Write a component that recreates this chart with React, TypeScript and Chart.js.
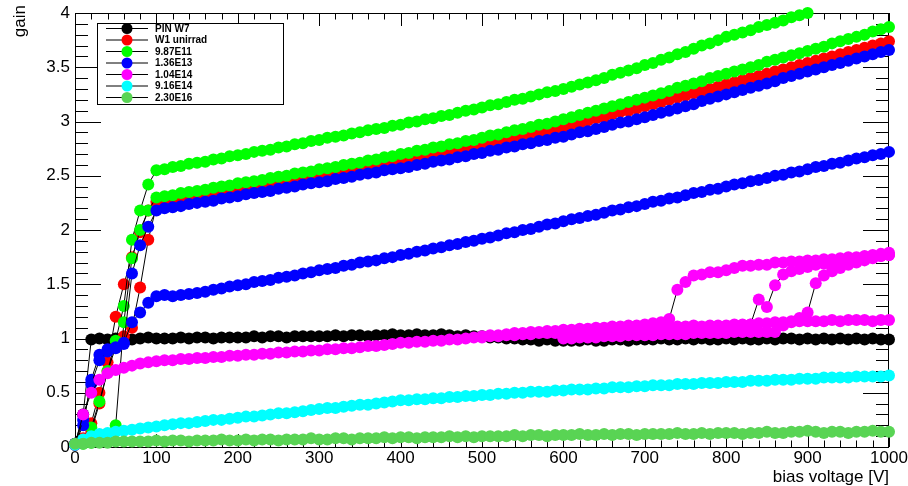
import React, { useEffect, useRef } from "react";
import { Chart, registerables } from "chart.js";

Chart.register(...registerables);

const FONT = "'Liberation Sans', Arial, Helvetica, sans-serif";

const voltages = [0,10,20,30,40,50,60,70,80,90,100,110,120,130,140,150,160,170,180,190,200,210,220,230,240,250,260,270,280,290,300,310,320,330,340,350,360,370,380,390,400,410,420,430,440,450,460,470,480,490,500,510,520,530,540,550,560,570,580,590,600,610,620,630,640,650,660,670,680,690,700,710,720,730,740,750,760,770,780,790,800,810,820,830,840,850,860,870,880,890,900,910,920,930,940,950,960,970,980,990,1000];

const xTickValues = [0, 100, 200, 300, 400, 500, 600, 700, 800, 900, 1000];
const yTickValues = [0, 0.5, 1, 1.5, 2, 2.5, 3, 3.5, 4];

const legendLabels = ["PIN W7", "W1 unirrad", "9.87E11", "1.36E13", "1.04E14", "9.16E14", "2.30E16"];
const legendColors = ["#000000", "#ff0000", "#00ff00", "#0000ff", "#ff00ff", "#00ffff", "#59d454"];

const pinW7 = [0.03,0.30,0.99,1.00,0.99,1.00,1.00,0.99,1.00,1.01,1.00,
 1.00,1.00,1.01,1.00,1.01,1.01,1.00,1.01,1.01,1.01,
 1.01,1.02,1.01,1.02,1.02,1.01,1.02,1.02,1.02,1.02,
 1.02,1.03,1.02,1.03,1.03,1.02,1.03,1.03,1.04,1.03,
 1.03,1.04,1.03,1.03,1.04,1.03,1.02,1.03,1.02,1.02,
 1.01,1.01,1.00,1.00,0.99,0.99,0.98,0.99,0.98,0.98,
 0.98,0.98,0.99,0.98,0.98,0.99,0.99,0.98,0.99,0.99,
 0.99,1.00,0.99,0.99,1.00,0.99,1.00,0.99,0.99,1.00,
 0.99,1.00,0.99,0.99,1.00,0.99,1.00,1.00,0.99,1.00,
 0.99,1.00,0.99,1.00,0.99,1.00,0.99,1.00,0.99,0.99];

const w1UnirradA = [0.02,0.08,0.22,0.50,0.78,1.20,1.50,1.75,1.98,2.18,2.26,
 2.27,2.28,2.30,2.31,2.32,2.33,2.35,2.35,2.37,2.38,
 2.39,2.41,2.42,2.43,2.44,2.46,2.47,2.48,2.49,2.51,
 2.52,2.53,2.55,2.56,2.57,2.59,2.60,2.61,2.63,2.64,
 2.65,2.67,2.68,2.69,2.71,2.72,2.74,2.75,2.77,2.78,
 2.80,2.81,2.83,2.84,2.86,2.88,2.89,2.91,2.93,2.95,
 2.97,2.98,3.01,3.03,3.04,3.07,3.09,3.10,3.12,3.14,
 3.16,3.18,3.20,3.22,3.24,3.26,3.28,3.30,3.32,3.34,
 3.36,3.38,3.40,3.42,3.44,3.46,3.48,3.50,3.52,3.54,
 3.56,3.58,3.60,3.62,3.64,3.66,3.68,3.70,3.72,3.74];

const w1UnirradB = [0.02,0.05,0.15,0.40,0.70,0.92,1.02,1.10,1.47,1.91,2.22,
 2.27,2.28,2.29,2.31,2.32];

const f987e11A = [0.02,0.06,0.18,0.42,0.70,0.98,1.30,1.91,2.18,2.42,2.55,
 2.56,2.58,2.59,2.61,2.62,2.63,2.65,2.66,2.68,2.69,
 2.70,2.72,2.73,2.74,2.76,2.77,2.79,2.80,2.82,2.83,
 2.85,2.86,2.87,2.89,2.90,2.92,2.93,2.94,2.96,2.97,
 2.99,3.00,3.02,3.03,3.05,3.06,3.08,3.10,3.11,3.13,
 3.15,3.16,3.18,3.20,3.21,3.23,3.25,3.27,3.28,3.30,
 3.32,3.34,3.36,3.38,3.40,3.43,3.45,3.47,3.49,3.52,
 3.54,3.57,3.59,3.62,3.64,3.67,3.70,3.72,3.75,3.78,
 3.80,3.82,3.84,3.87,3.89,3.91,3.93,3.96,3.98,4.00];

const f987e11B = [0.02,0.03,0.04,0.05,0.06,0.20,1.15,1.74,2.00,2.18,2.30,
 2.31,2.32,2.34,2.35,2.36,2.37,2.39,2.40,2.41,2.43,
 2.44,2.45,2.46,2.48,2.49,2.50,2.52,2.53,2.54,2.56,
 2.57,2.58,2.60,2.61,2.62,2.64,2.65,2.67,2.68,2.70,
 2.71,2.73,2.74,2.76,2.77,2.79,2.80,2.82,2.83,2.85,
 2.87,2.88,2.90,2.92,2.93,2.95,2.97,2.98,3.00,3.02,
 3.04,3.06,3.08,3.10,3.12,3.14,3.16,3.18,3.20,3.22,
 3.24,3.26,3.28,3.31,3.33,3.35,3.37,3.40,3.42,3.44,
 3.46,3.48,3.50,3.52,3.55,3.57,3.59,3.61,3.63,3.65,
 3.67,3.69,3.72,3.74,3.76,3.78,3.80,3.83,3.85,3.87];

const f136e13A = [0.03,0.20,0.62,0.85,0.90,0.92,0.95,1.60,1.86,2.03,2.18,
 2.20,2.21,2.22,2.24,2.25,2.26,2.27,2.29,2.30,2.31,
 2.33,2.34,2.35,2.36,2.38,2.39,2.40,2.42,2.43,2.44,
 2.45,2.47,2.48,2.49,2.51,2.52,2.53,2.55,2.56,2.57,
 2.58,2.60,2.61,2.63,2.64,2.65,2.67,2.68,2.70,2.71,
 2.73,2.74,2.76,2.77,2.79,2.80,2.82,2.83,2.85,2.86,
 2.88,2.90,2.91,2.93,2.95,2.97,2.99,3.00,3.02,3.04,
 3.06,3.08,3.10,3.12,3.14,3.16,3.19,3.21,3.23,3.25,
 3.27,3.29,3.31,3.33,3.35,3.37,3.40,3.42,3.44,3.46,
 3.48,3.50,3.52,3.54,3.56,3.58,3.60,3.62,3.64,3.66];

const f136e13B = [0.02,0.25,0.58,0.80,0.88,0.91,0.96,1.15,1.24,1.33,1.39,
 1.40,1.39,1.40,1.41,1.42,1.43,1.45,1.46,1.48,1.49,
 1.50,1.52,1.53,1.54,1.56,1.57,1.58,1.60,1.61,1.63,
 1.64,1.65,1.67,1.68,1.70,1.71,1.72,1.74,1.75,1.77,
 1.78,1.80,1.81,1.83,1.84,1.86,1.87,1.89,1.90,1.92,
 1.93,1.95,1.97,1.98,2.00,2.01,2.03,2.05,2.06,2.08,
 2.10,2.11,2.13,2.14,2.16,2.18,2.19,2.21,2.22,2.24,
 2.26,2.27,2.29,2.30,2.32,2.34,2.35,2.37,2.38,2.40,
 2.42,2.43,2.45,2.46,2.48,2.50,2.51,2.53,2.54,2.56,
 2.58,2.59,2.61,2.62,2.64,2.66,2.67,2.69,2.70,2.72];

const f104e14A = [0.02,0.30,0.50,0.62,0.68,0.71,0.73,0.75,0.77,0.78,0.79,
 0.80,0.80,0.81,0.81,0.82,0.82,0.83,0.83,0.84,0.84,
 0.85,0.85,0.86,0.86,0.87,0.87,0.88,0.88,0.89,0.89,
 0.90,0.90,0.91,0.91,0.92,0.93,0.93,0.94,0.95,0.96,
 0.96,0.97,0.97,0.98,0.98,0.99,0.99,1.00,1.01,1.01,
 1.02,1.02,1.03,1.03,1.04,1.04,1.05,1.05,1.05,1.06,
 1.06,1.07,1.07,1.08,1.08,1.08,1.09,1.09,1.10,1.10,
 1.10,1.11,1.10,1.11,1.11,1.12,1.11,1.12,1.12,1.12,
 1.13,1.13,1.13,1.14,1.14,1.15,1.15,1.15,1.16,1.16,
 1.16,1.16,1.17,1.16,1.17,1.17,1.17,1.16,1.17,1.17];

const f104e14B = [null,null,null,null,null,null,null,null,null,null,
 null,null,null,null,null,null,null,null,null,null,
 null,null,null,null,null,null,null,null,null,null,
 null,null,null,null,null,null,null,null,null,null,
 null,null,null,null,null,null,null,null,null,null,
 1.02,1.03,1.03,1.04,1.05,1.05,1.06,1.06,1.07,1.07,1.08,
 1.08,1.09,1.09,1.10,1.10,1.11,1.11,1.12,1.12,1.13,
 1.14,1.15,1.18,1.45,1.52,1.58,1.59,1.61,1.61,1.63,
 1.65,1.67,1.67,1.68,1.68,1.70,1.70,1.71,1.71,1.72,
 1.72,1.73,1.73,1.74,1.75,1.75,1.76,1.77,1.78,1.79];

const f104e14C = [null,null,null,null,null,null,null,null,null,null,
 null,null,null,null,null,null,null,null,null,null,
 null,null,null,null,null,null,null,null,null,null,
 null,null,null,null,null,null,null,null,null,null,
 null,null,null,null,null,null,null,null,null,null,
 null,null,null,null,null,null,null,null,null,null,
 1.01,1.01,1.02,1.02,1.02,1.03,1.03,1.03,1.04,1.04,1.04,
 1.05,1.05,1.05,1.06,1.06,1.06,1.07,1.07,1.08,1.08,
 1.09,1.10,1.13,1.36,1.29,1.49,1.59,1.62,1.64,1.66,
 1.68,1.69,1.70,1.71,1.72,1.73,1.74,1.75,1.76,1.77];

const f104e14D = [null,null,null,null,null,null,null,null,null,null,
 null,null,null,null,null,null,null,null,null,null,
 null,null,null,null,null,null,null,null,null,null,
 null,null,null,null,null,null,null,null,null,null,
 null,null,null,null,null,null,null,null,null,null,
 null,null,null,null,null,null,null,null,null,null,
 1.00,1.00,1.01,1.01,1.01,1.02,1.02,1.02,1.03,1.03,1.03,
 1.03,1.04,1.04,1.04,1.04,1.05,1.05,1.05,1.05,1.05,
 1.06,1.06,1.06,1.06,1.06,1.06,1.12,1.16,1.19,1.24,
 1.51,1.58,1.62,1.65,1.68,1.70,1.72,1.74,1.76,1.77];

const f916e14 = [0.02,0.07,0.10,0.12,0.13,0.14,0.15,0.16,0.17,0.18,0.19,
 0.20,0.21,0.22,0.22,0.23,0.24,0.25,0.25,0.26,0.27,
 0.28,0.28,0.29,0.30,0.31,0.31,0.32,0.33,0.34,0.35,
 0.36,0.36,0.37,0.38,0.39,0.39,0.40,0.41,0.42,0.43,
 0.43,0.44,0.44,0.45,0.45,0.46,0.46,0.47,0.47,0.48,
 0.48,0.49,0.49,0.50,0.50,0.51,0.51,0.51,0.52,0.52,
 0.53,0.53,0.53,0.54,0.54,0.55,0.55,0.55,0.56,0.56,
 0.57,0.57,0.57,0.58,0.58,0.58,0.59,0.59,0.59,0.60,
 0.60,0.60,0.61,0.61,0.61,0.62,0.62,0.62,0.63,0.63,
 0.63,0.64,0.64,0.64,0.64,0.65,0.65,0.65,0.65,0.66];

const f230e16 = [0.03,0.03,0.04,0.04,0.04,0.05,0.05,0.05,0.05,0.05,0.06,
 0.05,0.06,0.06,0.05,0.06,0.06,0.06,0.07,0.06,0.06,
 0.07,0.06,0.07,0.07,0.06,0.07,0.07,0.07,0.08,0.07,
 0.07,0.08,0.08,0.07,0.08,0.08,0.08,0.09,0.08,0.09,
 0.09,0.08,0.09,0.09,0.09,0.10,0.09,0.10,0.09,0.10,
 0.10,0.10,0.10,0.11,0.10,0.11,0.11,0.10,0.11,0.11,
 0.11,0.12,0.11,0.11,0.12,0.11,0.12,0.12,0.11,0.12,
 0.12,0.12,0.12,0.13,0.12,0.12,0.13,0.12,0.13,0.13,
 0.13,0.12,0.13,0.13,0.14,0.13,0.13,0.14,0.14,0.15,
 0.14,0.13,0.14,0.14,0.13,0.14,0.14,0.15,0.14,0.14];

// each curve: gains + index into legend
const curves: { gains: (number | null)[]; legend: number }[] = [
  { gains: pinW7, legend: 0 },
  { gains: w1UnirradA, legend: 1 },
  { gains: w1UnirradB, legend: 1 },
  { gains: f987e11A, legend: 2 },
  { gains: f987e11B, legend: 2 },
  { gains: f136e13A, legend: 3 },
  { gains: f136e13B, legend: 3 },
  { gains: f104e14A, legend: 4 },
  { gains: f104e14B, legend: 4 },
  { gains: f104e14C, legend: 4 },
  { gains: f104e14D, legend: 4 },
  { gains: f916e14, legend: 5 },
  { gains: f230e16, legend: 6 },
];

const MARKER_R = 6;
const LEGEND_MARKER_R = 5.5;

const rootAxesPlugin = {
  id: "rootAxes",
  beforeDatasetsDraw(chart: any) {
    const { ctx, chartArea: a, scales } = chart;
    const x = scales.x;
    const y = scales.y;
    ctx.save();
    ctx.strokeStyle = "#000";
    ctx.lineWidth = 1;
    ctx.beginPath();
    for (let k = 0; k <= 40; k++) {
      const py = Math.round(y.getPixelForValue(k / 10)) + 0.5;
      const len = k % 5 === 0 ? 26 : 13;
      ctx.moveTo(a.left, py);
      ctx.lineTo(a.left + len, py);
      ctx.moveTo(a.right, py);
      ctx.lineTo(a.right - len, py);
    }
    for (let k = 0; k <= 50; k++) {
      const px = Math.round(x.getPixelForValue(k * 20)) + 0.5;
      const len = k % 5 === 0 ? 13 : 6.5;
      ctx.moveTo(px, a.bottom);
      ctx.lineTo(px, a.bottom - len);
      ctx.moveTo(px, a.top);
      ctx.lineTo(px, a.top + len);
    }
    ctx.stroke();
    ctx.strokeRect(a.left + 0.5, a.top + 0.5, a.right - a.left - 1, a.bottom - a.top);
    ctx.restore();
  },
  afterDraw(chart: any) {
    const { ctx, chartArea: a } = chart;
    ctx.save();
    ctx.fillStyle = "#000";
    ctx.font = `17px ${FONT}`;
    // x title
    ctx.textAlign = "right";
    ctx.textBaseline = "middle";
    ctx.fillText("bias voltage [V]", a.right, 477);
    // y title
    ctx.save();
    ctx.translate(20, 5);
    ctx.rotate(-Math.PI / 2);
    ctx.textAlign = "right";
    ctx.textBaseline = "middle";
    ctx.fillText("gain", 0, 0);
    ctx.restore();

    // legend
    const bx = 97, by = 23, bw = 186, bh = 81;
    ctx.fillStyle = "#fff";
    ctx.fillRect(bx, by, bw, bh);
    ctx.strokeStyle = "#000";
    ctx.lineWidth = 1;
    ctx.strokeRect(bx + 0.5, by + 0.5, bw, bh);
    ctx.font = `bold 10px ${FONT}`;
    ctx.textAlign = "left";
    ctx.textBaseline = "middle";
    legendLabels.forEach((label, i) => {
      const cy = 28.5 + i * 11.5;
      ctx.beginPath();
      ctx.strokeStyle = "#000";
      ctx.moveTo(106, cy);
      ctx.lineTo(148, cy);
      ctx.stroke();
      ctx.beginPath();
      ctx.fillStyle = legendColors[i];
      ctx.arc(127, cy, LEGEND_MARKER_R, 0, Math.PI * 2);
      ctx.fill();
      ctx.fillStyle = "#000";
      ctx.fillText(label, 155, cy + 0.5);
    });
    ctx.restore();
  },
};

export default function App() {
  const ref = useRef<HTMLCanvasElement | null>(null);

  useEffect(() => {
    const canvas = ref.current;
    if (!canvas) return;
    const datasets = curves.map((c, idx) => ({
      label: legendLabels[c.legend],
      data: c.gains
        .map((g, i) => ({ x: voltages[i], y: g }))
        .filter((p) => p.y !== null && p.y !== undefined),
      borderColor: "#000",
      borderWidth: 1,
      backgroundColor: legendColors[c.legend],
      pointBackgroundColor: legendColors[c.legend],
      pointBorderWidth: 0,
      pointRadius: MARKER_R,
      pointHoverRadius: MARKER_R,
      showLine: true,
      tension: 0,
      fill: false,
      clip: false,
      order: -idx,
    }));

    const chart = new Chart(canvas, {
      type: "line",
      data: { datasets } as any,
      options: {
        animation: false,
        responsive: false,
        events: [],
        layout: { padding: { left: 0, top: 13, right: 19, bottom: 0 } },
        plugins: { legend: { display: false }, tooltip: { enabled: false } },
        scales: {
          x: {
            type: "linear",
            min: 0,
            max: 1000,
            grid: { display: false, drawTicks: false },
            border: { display: false },
            afterBuildTicks: (s: any) => {
              s.ticks = xTickValues.map((v) => ({ value: v }));
            },
            ticks: {
              padding: 1,
              color: "#000",
              font: { size: 17, family: FONT },
              maxRotation: 0,
              autoSkip: false,
              callback: (v: any) => String(v),
            },
            afterFit: (s: any) => {
              s.height = 39;
              s.paddingLeft = 0;
              s.paddingRight = 0;
            },
          },
          y: {
            type: "linear",
            min: 0,
            max: 4,
            grid: { display: false, drawTicks: false },
            border: { display: false },
            afterBuildTicks: (s: any) => {
              s.ticks = yTickValues.map((v) => ({ value: v }));
            },
            ticks: {
              padding: 5,
              color: "#000",
              font: { size: 17, family: FONT },
              autoSkip: false,
              callback: (v: any) => String(v),
            },
            afterFit: (s: any) => {
              s.width = 75;
              s.paddingTop = 0;
              s.paddingBottom = 0;
            },
          },
        },
      } as any,
      plugins: [rootAxesPlugin],
    });
    return () => chart.destroy();
  }, []);

  return (
    <div style={{ position: "fixed", left: 0, top: 0, width: 908, height: 486, background: "#fff" }}>
      <canvas ref={ref} width={908} height={486} style={{ display: "block" }} />
    </div>
  );
}
